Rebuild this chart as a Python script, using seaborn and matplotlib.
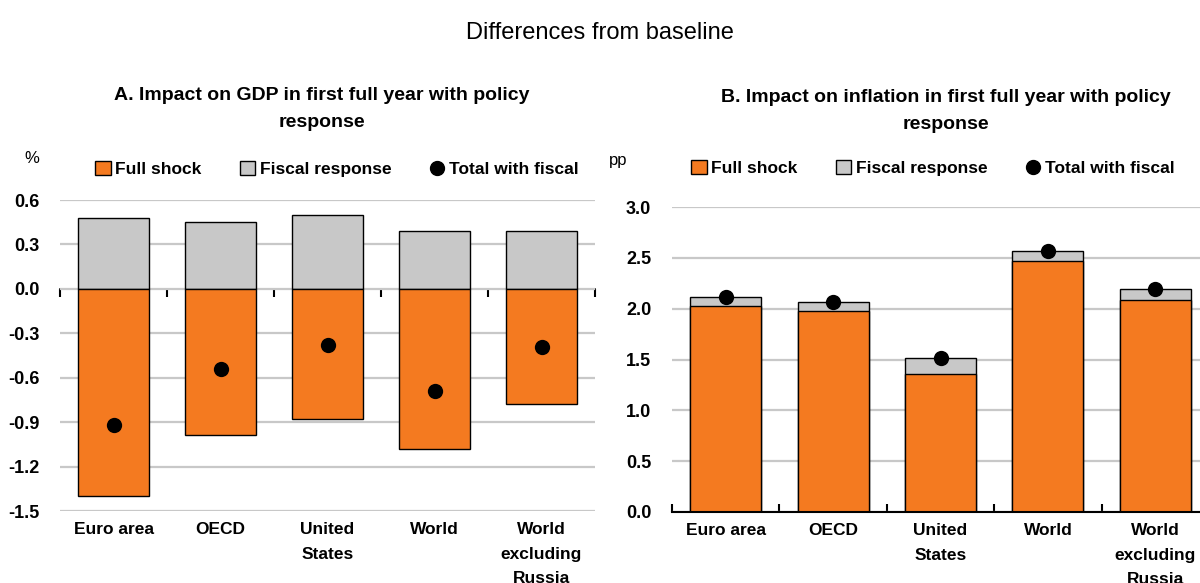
import numpy as np
import pandas as pd
import seaborn as sns
import matplotlib.pyplot as plt
from matplotlib.patches import Patch
from matplotlib.lines import Line2D

countries = ['Euro area', 'OECD', 'United\nStates', 'World', 'World\nexcluding\nRussia']

# Panel A: GDP impact, %
gdp_full = [-1.40, -0.99, -0.88, -1.08, -0.78]
gdp_fiscal = [0.48, 0.45, 0.50, 0.39, 0.39]

# Panel B: inflation impact, pp
inf_full = [2.03, 1.98, 1.36, 2.47, 2.09]
inf_fiscal = [0.08, 0.09, 0.15, 0.10, 0.10]

ORANGE = '#F47A20'
GREY = '#C8C8C8'
FONT = ['Liberation Sans Narrow', 'Liberation Sans', 'DejaVu Sans']

sns.set_theme(style='white')
plt.rcParams['font.family'] = FONT
plt.rcParams['text.color'] = 'black'
plt.rcParams['xtick.color'] = 'black'
plt.rcParams['ytick.color'] = 'black'

fig = plt.figure(figsize=(12, 5.83), dpi=100)
W, H = 1200, 583


def px_axes(x0, x1, ytop, ybot):
    return fig.add_axes([x0 / W, 1 - ybot / H, (x1 - x0) / W, (ybot - ytop) / H])


def style_axes(ax, ylim, yticks):
    ax.set_ylim(*ylim)
    ax.set_xlim(-0.5, len(countries) - 0.5)
    ax.set_yticks(yticks)
    ax.set_yticklabels([f'{t:.1f}' for t in yticks], fontsize=13, fontweight='bold')
    ax.set_xticks(range(len(countries)))
    ax.set_xticklabels(countries, fontsize=12.5, fontweight='bold', linespacing=1.8)
    ax.tick_params(axis='y', length=0, pad=15)
    ax.tick_params(axis='x', length=0, pad=8)
    ax.yaxis.grid(True, color='#C8C8C8', linewidth=1.6)
    ax.set_axisbelow(True)
    for s in ax.spines.values():
        s.set_visible(False)
    ax.set_xlabel('')
    ax.set_ylabel('')


def add_dots(ax, totals):
    d = pd.DataFrame({'country': countries, 'value': totals})
    sns.stripplot(data=d, x='country', y='value', jitter=False, color='black',
                  size=11, ax=ax, zorder=5)


def add_legend(xc, yc):
    handles = [Patch(facecolor=ORANGE, edgecolor='black', linewidth=1),
               Patch(facecolor=GREY, edgecolor='black', linewidth=1),
               Line2D([], [], marker='o', linestyle='', color='black', markersize=10)]
    fig.legend(handles, ['Full shock', 'Fiscal response', 'Total with fiscal'],
               loc='center', bbox_to_anchor=(xc / W, 1 - yc / H), ncol=3, frameon=False,
               prop={'family': FONT, 'weight': 'bold', 'size': 12.5},
               handlelength=0.9, handleheight=0.9, handletextpad=0.25, columnspacing=2.2)


# ---- Panel A ----
axA = px_axes(60, 595, 200, 511)
dfA = pd.DataFrame({'country': countries, 'full': gdp_full, 'fiscal': gdp_fiscal})
sns.barplot(data=dfA, x='country', y='fiscal', color=GREY, edgecolor='black',
            linewidth=1, width=0.66, saturation=1, ax=axA)
sns.barplot(data=dfA, x='country', y='full', color=ORANGE, edgecolor='black',
            linewidth=1, width=0.66, saturation=1, ax=axA)
add_dots(axA, np.array(gdp_full) + np.array(gdp_fiscal))
style_axes(axA, (-1.5, 0.6), [0.6, 0.3, 0.0, -0.3, -0.6, -0.9, -1.2, -1.5])
# zero line with category separators
zero_pos = (0 - (-1.5)) / (0.6 - (-1.5))
sec = axA.secondary_xaxis(zero_pos)
sec.set_xticks(np.arange(-0.5, len(countries), 1.0))
sec.set_xticklabels([])
sec.tick_params(direction='in', length=6, width=1.5, color='black')
sec.spines['bottom'].set_linewidth(1.5)
sec.spines['bottom'].set_color('black')

# ---- Panel B ----
axB = px_axes(672, 1209, 207, 512)
dfB = pd.DataFrame({'country': countries, 'full': inf_full,
                    'total': np.array(inf_full) + np.array(inf_fiscal)})
sns.barplot(data=dfB, x='country', y='total', color=GREY, edgecolor='black',
            linewidth=1, width=0.66, saturation=1, ax=axB)
sns.barplot(data=dfB, x='country', y='full', color=ORANGE, edgecolor='black',
            linewidth=1, width=0.66, saturation=1, ax=axB)
add_dots(axB, dfB['total'])
style_axes(axB, (0, 3.0), [0.0, 0.5, 1.0, 1.5, 2.0, 2.5, 3.0])
axB.spines['bottom'].set_visible(True)
axB.spines['bottom'].set_color('black')
axB.spines['bottom'].set_linewidth(1.5)
axB.set_xticks(np.arange(-0.5, len(countries), 1.0), minor=True)
axB.tick_params(axis='x', which='minor', direction='in', length=6, width=1.5,
                color='black', bottom=True)

# ---- Text ----
fig.text(600 / W, 1 - 33 / H, 'Differences from baseline', ha='center', va='center',
         fontsize=17)
fig.text(322 / W, 1 - 109 / H, 'A. Impact on GDP in first full year with policy\nresponse',
         ha='center', va='center', fontsize=14, fontweight='bold', linespacing=1.8)
fig.text(946 / W, 1 - 111 / H, 'B. Impact on inflation in first full year with policy\nresponse',
         ha='center', va='center', fontsize=14, fontweight='bold', linespacing=1.8)
fig.text(32 / W, 1 - 158 / H, '%', ha='center', va='center', fontsize=12)
fig.text(618 / W, 1 - 161 / H, 'pp', ha='center', va='center', fontsize=12)

add_legend(337, 169)
add_legend(933, 168)

fig.savefig('out.png', dpi=100)
